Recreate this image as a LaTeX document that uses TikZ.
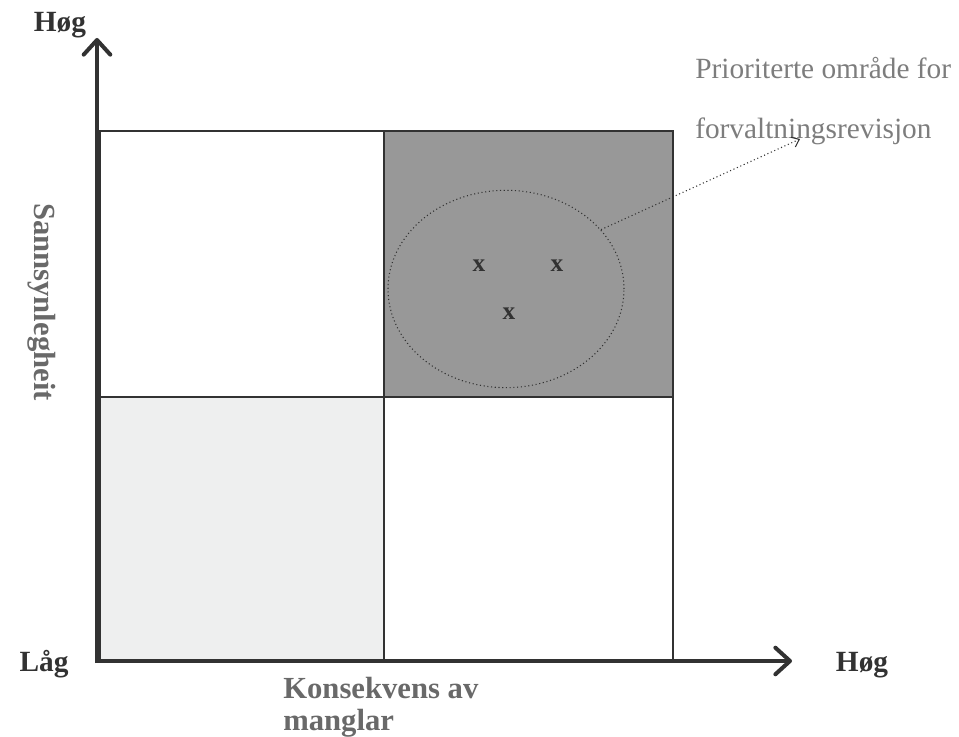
\documentclass[tikz,border=0pt]{standalone}
\usepackage{fontspec}
\setmainfont{Liberation Serif}
\usetikzlibrary{shapes.geometric,arrows.meta}
\definecolor{axisgray}{RGB}{50,50,50}
\definecolor{labelgray}{RGB}{105,105,105}
\definecolor{notegray}{RGB}{125,125,125}
\definecolor{quadhigh}{RGB}{152,152,152}
\definecolor{quadlow}{RGB}{238,239,239}

\begin{document}
\begin{tikzpicture}[x=0.75pt,y=0.75pt,yscale=-1,xscale=1,
    axisline/.style={line width=3pt, color=axisgray, -{Straight Barb[round,length=11pt,width=20pt]}},
    quadbox/.style={draw=axisgray, line width=1pt},
    endlabel/.style={font=\fontsize{22}{24}\selectfont\bfseries, text=axisgray, inner sep=0pt},
    axislabel/.style={font=\fontsize{23}{24}\selectfont\bfseries, text=labelgray, inner sep=0pt},
    riskmark/.style={font=\fontsize{19}{20}\selectfont\bfseries, text=axisgray, inner sep=0pt},
    notetext/.style={font=\fontsize{22}{24}\selectfont, text=notegray, inner sep=0pt}]
    \useasboundingbox (0,0) rectangle (959,737);
    % quadrants
    \fill[quadlow] (100,397) rectangle (384,661);
    \fill[quadhigh] (384,131) rectangle (673,397);
    \draw[quadbox] (100,131) rectangle (673,661);
    \draw[quadbox] (384,131) -- (384,661);
    \draw[quadbox] (100,397) -- (673,397);
    % axes
    \coordinate (origin) at (97,661);
    \coordinate (ytip) at (97,38);
    \coordinate (xtip) at (792,661);
    \draw[axisline] (97,663) -- (ytip);
    \draw[axisline] (95,661) -- (xtip);
    % priority zone
    \node (zone) [ellipse, draw=axisgray, dotted, line width=0.8pt, minimum width=177pt, minimum height=148pt] at (506,289) {};
    \node (x1) [riskmark] at (479,266) {x};
    \node (x2) [riskmark] at (557,266) {x};
    \node (x3) [riskmark] at (509,314) {x};
    % note
    \node (note1) [notetext, anchor=west] at (695,68) {Prioriterte område for};
    \node (note2) [notetext, anchor=west] at (695,131) {forvaltningsrevisjon};
    \coordinate (notetip) at (800,139);
    \draw[axisgray, dotted, line width=0.8pt, -{Straight Barb[length=5pt,width=8pt]}] (zone.32) -- (notetip);
    % labels
    \node (ytop) [endlabel] at (60,25) {Høg};
    \node (low) [endlabel] at (44,664) {Låg};
    \node (xright) [endlabel] at (862,665) {Høg};
    \node (ylabel) [axislabel, rotate=-90] at (42,302) {Sannsynlegheit};
    \node (xlabel) [axislabel, anchor=north west, align=left] at (283,677) {Konsekvens av\\manglar};
\end{tikzpicture}
\end{document}
